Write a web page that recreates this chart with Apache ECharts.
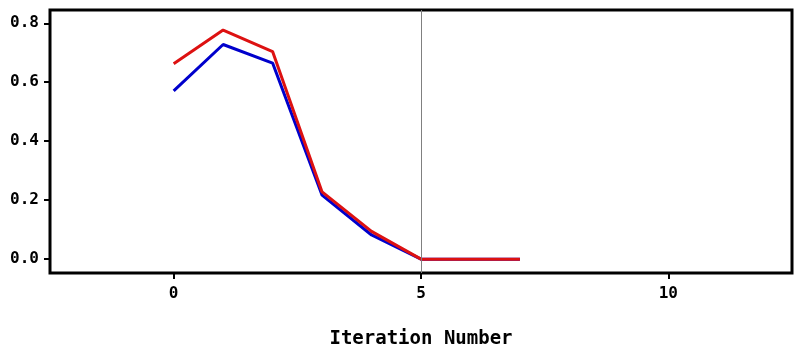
<!DOCTYPE html>
<html><head><meta charset="utf-8">
<script src="https://cdn.jsdelivr.net/npm/echarts@6/dist/echarts.min.js"></script>
<style>html,body{margin:0;padding:0;background:#fff}#c{width:797px;height:350px}</style>
</head><body><div id="c"></div>
<script>
const iterations = [0, 1, 2, 3, 4, 5, 6, 7];
const blueValues = [0.571, 0.728, 0.665, 0.217, 0.082, 0.0, 0.0, 0.0];
const redValues  = [0.663, 0.777, 0.704, 0.228, 0.094, 0.0, 0.0, 0.0];
const refLineX = 5;
const xTicks = [0, 5, 10];
const yTicks = [0.0, 0.2, 0.4, 0.6, 0.8];

const font = 'DejaVu Sans Mono';
const chart = echarts.init(document.getElementById('c'), null, {renderer: 'canvas'});
chart.setOption({
  animation: false,
  backgroundColor: '#fff',
  grid: {left: 50, top: 10, right: 5, bottom: 77, outerBoundsMode: 'none', containLabel: false,
    show: true, borderColor: '#000', borderWidth: 3, backgroundColor: 'transparent'},
  xAxis: {
    type: 'value', min: -2.5, max: 12.5, interval: 2.5,
    axisLine: {show: false, onZero: false},
    axisTick: {show: true, length: 6, lineStyle: {color: '#000', width: 2},
      customValues: xTicks},
    axisLabel: {color: '#000', fontFamily: font, fontWeight: 'bold', fontSize: 16, margin: 13,
      customValues: xTicks, formatter: v => String(v)},
    splitLine: {show: false},
    name: 'Iteration Number', nameLocation: 'middle', nameGap: 57,
    nameTextStyle: {color: '#000', fontFamily: font, fontWeight: 'bold', fontSize: 19}
  },
  yAxis: {
    type: 'value', min: -0.047, max: 0.845,
    axisLine: {show: false, onZero: false},
    axisTick: {show: true, length: 6, lineStyle: {color: '#000', width: 2}, customValues: yTicks},
    axisLabel: {color: '#000', fontFamily: font, fontWeight: 'bold', fontSize: 16, margin: 11,
      customValues: yTicks, formatter: v => v.toFixed(1)},
    splitLine: {show: false}
  },
  series: [
    {type: 'line', data: iterations.map((x, i) => [x, blueValues[i]]), symbol: 'none',
     lineStyle: {color: '#0000cc', width: 3}, z: 2,
     markLine: {silent: true, symbol: 'none', label: {show: false},
       lineStyle: {color: '#808080', width: 1, type: 'solid'}, data: [{xAxis: refLineX}]}},
    {type: 'line', data: iterations.map((x, i) => [x, redValues[i]]), symbol: 'none',
     lineStyle: {color: '#dd1111', width: 3}, z: 3}
  ]
});
</script></body></html>
